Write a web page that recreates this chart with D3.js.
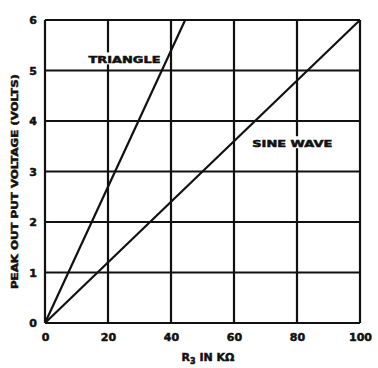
<!DOCTYPE html>
<html>
<head>
<meta charset="utf-8">
<script src="https://cdn.jsdelivr.net/npm/d3@7"></script>
<style>
  body { margin: 0; background: #fff; }
  text { font-family: "DejaVu Sans", sans-serif; font-weight: bold; fill: #111; stroke: #111; stroke-width: 0.5px; }
</style>
</head>
<body>
<div id="chart"></div>
<script>
// data
const xTicks = [0, 20, 40, 60, 80, 100];
const xTickLabels = ["0", "20", "40", "60", "80", "100"];
const yTicks = [0, 1, 2, 3, 4, 5, 6];
const triangleR = [0, 44.5];
const triangleV = [0, 6];
const sineR = [0, 100];
const sineV = [0, 6];

const margin = { top: 20, right: 18, bottom: 45, left: 45 };
const W = 378, H = 368;
const width = W - margin.left - margin.right;
const height = H - margin.top - margin.bottom;

const svg = d3.select("#chart").append("svg")
    .attr("width", W)
    .attr("height", H);

const g = svg.append("g")
    .attr("transform", "translate(" + margin.left + "," + margin.top + ")");

const x = d3.scaleLinear().domain([0, 100]).range([0, width]);
const y = d3.scaleLinear().domain([0, 6]).range([height, 0]);

// grid
g.append("g")
  .selectAll("line")
  .data(xTicks)
  .enter().append("line")
    .attr("x1", d => x(d)).attr("x2", d => x(d))
    .attr("y1", 0).attr("y2", height)
    .attr("stroke", "#111").attr("stroke-width", 2.2);

g.append("g")
  .selectAll("line")
  .data(yTicks)
  .enter().append("line")
    .attr("x1", 0).attr("x2", width)
    .attr("y1", d => y(d)).attr("y2", d => y(d))
    .attr("stroke", "#111").attr("stroke-width", 2.2);

// axes (labels only)
const xAxis = g.append("g")
  .attr("transform", "translate(0," + height + ")")
  .call(d3.axisBottom(x).tickValues(xTicks).tickFormat((d, i) => xTickLabels[i]).tickSize(0).tickPadding(10));
xAxis.select(".domain").remove();
xAxis.selectAll("text").style("font-size", "11px").style("font-weight", "bold").style("font-family", "DejaVu Sans");

const yAxis = g.append("g")
  .call(d3.axisLeft(y).tickValues(yTicks).tickFormat(d3.format("d")).tickSize(0).tickPadding(8));
yAxis.select(".domain").remove();
yAxis.selectAll("text").style("font-size", "11px").style("font-weight", "bold").style("font-family", "DejaVu Sans");

// lines
const line = d3.line().x(d => x(d[0])).y(d => y(d[1]));
const triangle = d3.zip(triangleR, triangleV);
const sine = d3.zip(sineR, sineV);

g.append("path").datum(triangle)
  .attr("d", line).attr("fill", "none")
  .attr("stroke", "#111").attr("stroke-width", 2.2);
g.append("path").datum(sine)
  .attr("d", line).attr("fill", "none")
  .attr("stroke", "#111").attr("stroke-width", 2.2);

// curve labels
g.append("rect").attr("x", x(13.5)).attr("y", y(5.22) - 7).attr("width", x(36.5) - x(13.5)).attr("height", 12).attr("fill", "#fff");
g.append("text")
  .attr("x", x(13.8)).attr("y", y(5.22) + 4)
  .style("font-size", "9px")
  .attr("textLength", 72)
  .attr("lengthAdjust", "spacingAndGlyphs")
  .text("TRIANGLE");

g.append("rect").attr("x", x(65.5)).attr("y", y(3.56) - 7).attr("width", x(91.5) - x(65.5)).attr("height", 12).attr("fill", "#fff");
g.append("text")
  .attr("x", x(65.8)).attr("y", y(3.56) + 4)
  .style("font-size", "9px")
  .attr("textLength", 80)
  .attr("lengthAdjust", "spacingAndGlyphs")
  .text("SINE WAVE");

// axis titles
svg.append("text")
  .attr("transform", "translate(18," + (margin.top + height / 2 + 10) + ") rotate(-90)")
  .attr("text-anchor", "middle")
  .style("font-size", "9px")
  .attr("textLength", 215)
  .attr("lengthAdjust", "spacingAndGlyphs")
  .text("PEAK OUT PUT VOLTAGE (VOLTS)");

const xt = svg.append("text")
  .attr("x", 208).attr("y", 361)
  .attr("text-anchor", "middle")
  .style("font-size", "11px");
xt.append("tspan").text("R");
xt.append("tspan").attr("dy", 3).style("font-size", "8px").text("3");
xt.append("tspan").attr("dy", -3).text(" IN KΩ");
</script>
</body>
</html>
